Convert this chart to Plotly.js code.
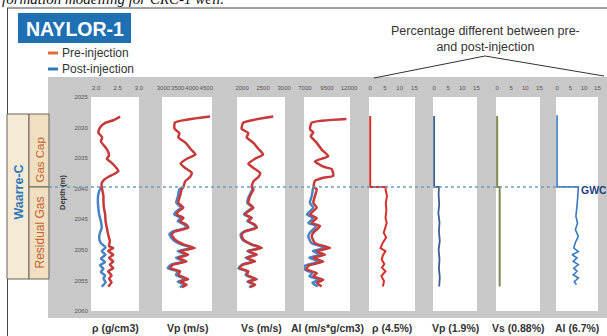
<!DOCTYPE html>
<html><head><meta charset="utf-8">
<script src="https://cdn.plot.ly/plotly-3.0.1.min.js"></script>
<style>html,body{margin:0;padding:0;background:#fff}#chart{width:607px;height:336px}</style>
</head><body><div id="chart"></div>
<script>
// ---------------- DATA ----------------
const GWC = 2039.7;
const rhoPreDepth = [2028.2,2028.8,2029.2,2030.0,2030.8,2031.6,2032.3,2033.0,2033.8,2034.6,2035.1,2035.7,2036.5,2037.1,2037.6,2038.0,2038.5,2039.1,2039.7,2040.4,2041.2,2042.0,2043.1,2044.2,2045.3,2046.4,2047.5,2048.6,2049.4,2049.7,2050.2,2050.8,2051.3,2051.9,2052.4,2053.0,2053.5,2054.2,2054.7,2055.3,2056.0];
const rhoPre = [2.56,2.40,2.22,2.09,2.05,2.14,2.11,2.19,2.27,2.30,2.25,2.35,2.46,2.52,2.42,2.30,2.19,2.13,2.13,2.15,2.17,2.17,2.18,2.21,2.22,2.25,2.28,2.32,2.30,2.40,2.28,2.40,2.30,2.40,2.32,2.40,2.28,2.36,2.30,2.36,2.28];
const rhoPostDepth = [2039.7,2040.1,2040.9,2042.0,2043.1,2044.2,2045.3,2046.4,2047.2,2048.0,2048.9,2049.6,2050.2,2050.8,2051.4,2052.0,2052.5,2053.1,2053.6,2054.2,2054.7,2055.3,2056.0];
const rhoPost = [2.13,2.09,2.05,2.04,2.05,2.07,2.11,2.13,2.09,2.07,2.11,2.22,2.13,2.22,2.11,2.21,2.09,2.17,2.11,2.21,2.17,2.22,2.13];

const velPreDepth = [2028.2,2029.2,2030.2,2030.9,2031.6,2032.5,2033.5,2034.4,2035.1,2035.9,2036.6,2037.4,2038.1,2038.8,2039.7,2040.1,2041.2,2042.3,2043.1,2043.7,2044.2,2044.8,2045.3,2045.9,2046.4,2047.0,2047.5,2048.3,2049.1,2049.7,2050.2,2050.8,2051.3,2051.9,2052.4,2053.0,2053.5,2054.1,2054.8,2055.2,2055.7,2056.1];
const vpPre = [4630,3400,3390,3560,3520,3780,3950,4120,3820,3600,3760,3990,3930,3760,3700,3640,3580,3520,3700,3520,3460,3700,3580,3810,3870,3400,3290,3400,3700,4100,3580,3870,3520,3810,3350,3230,3580,3520,3870,3580,3810,3650];
const vsPre = [2740,2030,1990,2150,2110,2270,2390,2500,2310,2150,2270,2430,2390,2270,2230,2270,2190,2150,2270,2150,2070,2230,2150,2310,2350,2070,1990,2030,2230,2470,2150,2350,2110,2310,2030,1940,2150,2110,2350,2150,2310,2190];
const velPostDepth = [2039.7,2040.1,2041.2,2042.3,2043.1,2043.7,2044.2,2044.8,2045.3,2045.9,2046.4,2047.0,2047.5,2048.3,2049.1,2049.7,2050.2,2050.8,2051.3,2051.9,2052.4,2053.0,2053.5,2054.1,2054.8,2055.2,2055.7,2056.1];
const vpPost = [3700,3560,3510,3450,3620,3450,3380,3620,3500,3740,3790,3320,3210,3330,3620,4010,3500,3800,3440,3730,3270,3150,3500,3440,3790,3500,3730,3570];
const vsPost = [2230,2245,2165,2125,2245,2125,2045,2205,2125,2285,2325,2045,1965,2005,2205,2445,2125,2325,2085,2285,2005,1915,2125,2085,2325,2125,2285,2165];

const aiPreDepth = [2028.6,2029.2,2030.3,2030.8,2031.4,2032.5,2033.6,2034.7,2035.5,2036.4,2036.8,2037.9,2038.2,2038.7,2039.7,2040.1,2041.2,2042.3,2043.1,2044.2,2044.8,2045.6,2046.1,2047.2,2047.8,2048.9,2049.7,2050.2,2050.8,2051.3,2051.9,2052.6,2053.2,2053.8,2054.3,2054.9,2055.4,2056.0];
const aiPre = [11700,7770,7580,7950,7660,8340,8900,9650,8140,9080,10030,10210,9080,8140,8000,8340,8140,7950,8340,7580,8340,7770,8710,7950,7770,8140,9840,8340,9270,7950,9080,7390,7200,8340,7950,9080,8340,8900];
const aiPostDepth = [2039.7,2040.1,2041.2,2042.3,2043.1,2044.2,2044.8,2045.6,2046.1,2047.2,2047.8,2048.9,2049.7,2050.2,2050.8,2051.3,2051.9,2052.6,2053.2,2053.8,2054.3,2054.9,2055.4,2056.0];
const aiPost = [8000,7900,7780,7560,7950,7220,7960,7400,8300,7560,7380,7750,9300,7900,8750,7500,8600,7000,6980,7850,7500,8600,7850,8450];

const rhoPctDepth = [2028.1,2039.7,2039.7,2040.1,2041.2,2042.3,2043.5,2044.8,2045.6,2046.5,2047.2,2048.0,2048.9,2049.7,2050.2,2050.9,2051.6,2052.3,2052.9,2053.5,2054.3,2055.1,2056.0];
const rhoPct = [0,0,5.4,5.2,5.7,5.3,5.5,5.2,5.6,5.0,4.6,5.4,4.2,3.5,5.2,4.3,3.9,4.8,4.0,5.2,3.8,4.7,4.3];
const vpPctDepth = [2028.1,2039.7,2039.7,2041.0,2042.5,2044.0,2045.5,2047.0,2048.5,2050.0,2051.5,2053.0,2054.5,2056.0];
const vpPct = [0,0,1.7,1.6,1.8,1.5,1.9,1.7,2.0,1.6,1.9,1.7,2.0,1.8];
const vsPctDepth = [2028.1,2039.7,2039.7,2045.0,2050.0,2056.0];
const vsPct = [0,0,0.9,0.9,0.9,0.9];
const aiPctDepth = [2028.0,2039.7,2039.7,2040.2,2041.2,2042.8,2044.5,2045.6,2046.7,2047.8,2048.8,2049.7,2050.3,2050.8,2051.3,2051.9,2052.4,2053.0,2053.5,2054.1,2054.6,2055.2,2055.7];
const aiPct = [0,0,7.9,7.9,7.7,7.4,7.0,7.6,6.8,7.9,6.8,6.2,7.9,5.6,7.4,6.0,7.9,6.2,7.4,6.0,7.9,6.4,7.2];

const depthTicks = [2025,2030,2035,2040,2045,2050,2055,2060];
const xTickVals = [[2.0,2.5,3.0],[3000,3500,4000,4500],[2000,2500,3000],[7000,9500,12000],[0,5,10,15],[0,5,10,15],[0,5,10,15],[0,5,10,15]];
const xTickText = [["2.0","2.5","3.0"],["3000","3500","4000","4500"],["2000","2500","3000"],["7000","9500","12000"],["0","5","10","15"],["0","5","10","15"],["0","5","10","15"],["0","5","10","15"]];
const panelLabels = ["ρ (g/cm3)","Vp (m/s)","Vs (m/s)","AI (m/s*g/cm3)","ρ (4.5%)","Vp (1.9%)","Vs (0.88%)","AI (6.7%)"];
const wellName = "NAYLOR-1";
const legendLabels = ["Pre-injection","Post-injection"];
const titleLines = ["Percentage different between pre-","and post-injection"];

// ---------------- LAYOUT HELPERS ----------------
const W = 607, H = 336;
const px = x => x / W, py = y => 1 - y / H;
const FONT = "Liberation Sans, Arial, sans-serif";
const panelsPx = [[91,139],[162,212],[237,285],[304,350],[369,415],[433,477],[496,540],[556,598]];
const ranges = [[1.88,3.0],[2950,4700],[1880,3020],[6900,12100],[-0.4,15.2],[-0.4,15.2],[-0.4,15.2],[-0.4,15.2]];
const axId = i => i === 0 ? 'x' : 'x' + (i + 1);
const axKey = i => i === 0 ? 'xaxis' : 'xaxis' + (i + 1);

const RED = '#c73a3a', BLUE = '#4a82c6';
const line = (c, w, sh) => ({color: c, width: w, shape: sh || 'spline', smoothing: 0.5});

const traces = [
  {x: rhoPost, y: rhoPostDepth, xaxis: 'x', line: line(BLUE, 2.5)},
  {x: rhoPre, y: rhoPreDepth, xaxis: 'x', line: line(RED, 2.5)},
  {x: vpPost, y: velPostDepth, xaxis: 'x2', line: line(BLUE, 2.5)},
  {x: vpPre, y: velPreDepth, xaxis: 'x2', line: line(RED, 2.5)},
  {x: vsPost, y: velPostDepth, xaxis: 'x3', line: line(BLUE, 2.5)},
  {x: vsPre, y: velPreDepth, xaxis: 'x3', line: line(RED, 2.5)},
  {x: aiPost, y: aiPostDepth, xaxis: 'x4', line: line(BLUE, 2.5)},
  {x: aiPre, y: aiPreDepth, xaxis: 'x4', line: line(RED, 2.5)},
  {x: rhoPct, y: rhoPctDepth, xaxis: 'x5', line: line('#d8312c', 2, 'linear')},
  {x: vpPct, y: vpPctDepth, xaxis: 'x6', line: line('#3d5f8e', 1.8, 'linear')},
  {x: vsPct, y: vsPctDepth, xaxis: 'x7', line: line('#7c8b52', 2, 'linear')},
  {x: aiPct, y: aiPctDepth, xaxis: 'x8', line: line('#3a78c0', 1.6, 'linear')}
].map(t => Object.assign({type: 'scatter', mode: 'lines', yaxis: 'y', hoverinfo: 'skip', showlegend: false}, t));

const layout = {
  width: W, height: H,
  margin: {l: 0, r: 0, t: 0, b: 0},
  paper_bgcolor: '#ffffff', plot_bgcolor: '#ffffff',
  font: {family: FONT, color: '#333'},
  showlegend: false,
  yaxis: {
    domain: [py(311), py(97)], range: [2060, 2025], anchor: 'x',
    tickvals: depthTicks, ticktext: depthTicks.map(String),
    tickfont: {size: 6, color: '#555'}, ticks: 'outside', ticklen: 1, tickcolor: 'rgba(0,0,0,0)',
    showgrid: false, zeroline: false, showline: false, fixedrange: true
  },
  shapes: [], annotations: []
};

panelsPx.forEach((p, i) => {
  layout[axKey(i)] = {
    domain: [px(p[0]), px(p[1])], range: ranges[i], anchor: 'y', side: 'top',
    tickvals: xTickVals[i], ticktext: xTickText[i], tickangle: 0,
    tickfont: {size: 6, color: '#555'}, ticks: 'outside', ticklen: 4, tickcolor: 'rgba(0,0,0,0)',
    showgrid: false, zeroline: false, showline: false, fixedrange: true
  };
});

const S = layout.shapes, A = layout.annotations;
const pline = (x0, y0, x1, y1, l) => S.push({type: 'line', xref: 'paper', yref: 'paper', x0: px(x0), x1: px(x1), y0: py(y0), y1: py(y1), line: l});
const prect = (x0, y0, x1, y1, fill, l, layer) => S.push({type: 'rect', xref: 'paper', yref: 'paper', x0: px(x0), x1: px(x1), y0: py(y1), y1: py(y0), fillcolor: fill, line: l || {width: 0}, layer: layer || 'above'});
// gray panel background
prect(48, 77, 607, 318, '#c8c8c8', null, 'below');
// white plot areas
panelsPx.forEach((p, i) => S.push({type: 'rect', xref: axId(i) + ' domain', yref: 'y domain', x0: 0, x1: 1, y0: 0, y1: 1, fillcolor: '#ffffff', line: {width: 0}, layer: 'below'}));
// frame
pline(7, 8, 607, 8, {color: '#444', width: 1});
pline(7.5, 8, 7.5, 336, {color: '#444', width: 1});
// Waarre boxes
prect(7, 114, 29, 279, '#f5ead6', {color: '#6b6256', width: 1});
prect(29, 114, 49, 187, '#f1dfc2', {color: '#6b6256', width: 1});
prect(29, 187, 49, 279, '#f1dfc2', {color: '#6b6256', width: 1});
// well name box
prect(18, 13, 131, 43, '#1f6fb3');
// legend swatches
pline(48, 53, 58, 53, {color: '#e06a3c', width: 3});
pline(48, 69, 58, 69, {color: '#2f78b8', width: 3});
// pointer lines from title
pline(374, 78, 485, 56, {color: '#333', width: 1});
pline(485, 56, 604, 76, {color: '#333', width: 1});
// GWC dashed line
S.push({type: 'line', xref: 'paper', yref: 'y', x0: px(49), x1: px(578), y0: GWC, y1: GWC, line: {color: '#6d9cc0', width: 1.5, dash: '3px,3px'}});

// annotations
const ann = (o) => A.push(Object.assign({xref: 'paper', yref: 'paper', showarrow: false, xanchor: 'center', yanchor: 'middle'}, o));
ann({x: 0, y: py(-1), xanchor: 'left', text: '<i>formation modelling for CRC-1 well.</i>', font: {family: 'Liberation Serif, Times New Roman, serif', size: 15, color: '#111'}});
ann({x: px(74.5), y: py(28.5), text: '<b>' + wellName + '</b>', font: {size: 19.5, color: '#ffffff'}});
ann({x: px(60), y: py(53), xanchor: 'left', text: legendLabels[0], font: {size: 12, color: '#333'}});
ann({x: px(60), y: py(68.5), xanchor: 'left', text: legendLabels[1], font: {size: 12, color: '#333'}});
ann({x: px(485), y: py(39), text: titleLines.join('<br>'), font: {size: 12.5, color: '#333'}});
ann({x: px(18.5), y: py(192), textangle: -90, text: '<b>Waarre-C</b>', font: {size: 12.5, color: '#2f77b7'}});
ann({x: px(39.5), y: py(160), textangle: -90, text: 'Gas Cap', font: {size: 11.5, color: '#c4622d'}});
ann({x: px(39.5), y: py(233), textangle: -90, text: 'Residual Gas', font: {size: 12, color: '#c4622d'}});
ann({x: px(62), y: py(193), textangle: -90, text: '<b>Depth (m)</b>', font: {size: 7.5, color: '#333'}});
ann({x: px(579), y: py(190), xanchor: 'left', text: '<b>GWC</b>', font: {size: 10.5, color: '#1f3f80'}});
panelLabels.forEach((t, i) => A.push({xref: axId(i) + ' domain', yref: 'paper', x: 0.5, y: py(328), xanchor: 'center', yanchor: 'middle', showarrow: false, text: '<b>' + t + '</b>', font: {size: 10.5, color: '#333'}}));

Plotly.newPlot('chart', traces, layout, {staticPlot: true, displayModeBar: false});
</script></body></html>
